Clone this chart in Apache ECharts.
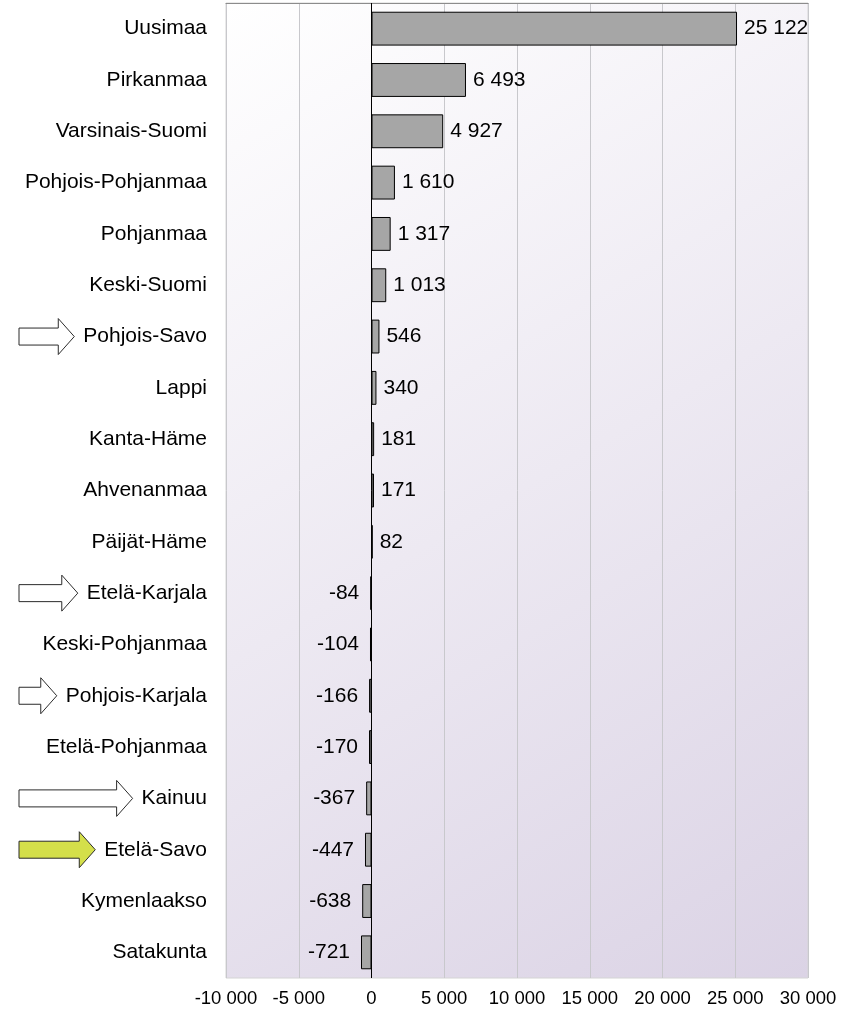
<!DOCTYPE html>
<html>
<head>
<meta charset="utf-8">
<script src="https://cdn.jsdelivr.net/npm/echarts@6/dist/echarts.min.js"></script>
<style>
  html, body { margin: 0; padding: 0; background: #fff; }
  #chart { width: 841px; height: 1013px; }
</style>
</head>
<body>
<div id="chart"></div>
<script>
const regions = ['Uusimaa', 'Pirkanmaa', 'Varsinais-Suomi', 'Pohjois-Pohjanmaa', 'Pohjanmaa',
  'Keski-Suomi', 'Pohjois-Savo', 'Lappi', 'Kanta-Häme', 'Ahvenanmaa', 'Päijät-Häme',
  'Etelä-Karjala', 'Keski-Pohjanmaa', 'Pohjois-Karjala', 'Etelä-Pohjanmaa', 'Kainuu',
  'Etelä-Savo', 'Kymenlaakso', 'Satakunta']
const netChange = [25122, 6493, 4927, 1610, 1317, 1013, 546, 340, 181, 171, 82,
  -84, -104, -166, -170, -367, -447, -638, -721]
const axisTicks = [-10000, -5000, 0, 5000, 10000, 15000, 20000, 25000, 30000]
const markedRegions = ['Pohjois-Savo', 'Etelä-Karjala', 'Pohjois-Karjala', 'Kainuu']
const highlightRegion = 'Etelä-Savo'

const FONT = '"Liberation Sans", Arial, sans-serif'
const fmt = (v) => String(v).replace(/\B(?=(\d{3})+(?!\d))/g, ' ')

const chart = echarts.init(document.getElementById('chart'))

const barData = netChange.map(v => ({
  value: v,
  label: v >= 0
    ? { position: 'right', distance: 7 }
    : { position: 'left', distance: 11 }
}))

chart.setOption({
  animation: false,
  grid: {
    left: 226, right: 33, top: 3, bottom: 35,
    show: true,
    borderColor: '#d4d4d4',
    borderWidth: 1,
    backgroundColor: new echarts.graphic.LinearGradient(0, 0, 1, 1, [
      { offset: 0, color: '#ffffff' },
      { offset: 1, color: '#dbd3e5' }
    ])
  },
  xAxis: [{
    type: 'value',
    min: axisTicks[0],
    max: axisTicks[axisTicks.length - 1],
    interval: 5000,
    axisLine: { show: false },
    axisTick: { show: false },
    splitLine: { show: true, lineStyle: { color: '#c8c8cc', width: 1 } },
    axisLabel: {
      fontFamily: FONT, fontSize: 18.5, color: '#000', margin: 11,
      formatter: fmt
    }
  }, {
    type: 'value',
    position: 'top',
    min: axisTicks[0],
    max: axisTicks[axisTicks.length - 1],
    axisLine: { show: true, onZero: false, lineStyle: { color: '#8c8c8c', width: 1 } },
    axisTick: { show: false },
    axisLabel: { show: false },
    splitLine: { show: false }
  }],
  yAxis: {
    type: 'category',
    data: regions,
    inverse: true,
    axisLine: { show: false, onZero: false },
    axisTick: { show: false },
    splitLine: { show: false },
    axisLabel: {
      fontFamily: FONT, fontSize: 21, color: '#000', margin: 19
    }
  },
  series: [{
    type: 'bar',
    data: barData,
    barCategoryGap: '34%',
    itemStyle: { color: '#a6a6a6', borderColor: '#000', borderWidth: 1 },
    label: {
      show: true,
      fontFamily: FONT, fontSize: 21, color: '#000',
      formatter: p => fmt(p.value)
    },
    markLine: {
      silent: true,
      symbol: 'none',
      label: { show: false },
      lineStyle: { color: '#000', width: 1, type: 'solid' },
      data: [{ xAxis: 0 }]
    }
  }]
})

// arrows pointing at selected region labels
const ctx = document.createElement('canvas').getContext('2d')
ctx.font = '21px ' + FONT
const labelRight = 226 - 19
const arrowLeft = 19
const makeArrow = (name, fill) => {
  const y = chart.convertToPixel({ yAxisIndex: 0 }, name)
  const tip = labelRight - ctx.measureText(name).width - 9
  const head = 16
  const shaft = 8.5
  const wing = 18
  return {
    type: 'polygon',
    shape: {
      points: [
        [arrowLeft, y - shaft], [tip - head, y - shaft], [tip - head, y - wing],
        [tip, y], [tip - head, y + wing], [tip - head, y + shaft], [arrowLeft, y + shaft]
      ]
    },
    style: { fill: fill, stroke: '#2b2b2b', lineWidth: 1 }
  }
}
const arrows = markedRegions.map(n => makeArrow(n, '#ffffff'))
arrows.push(makeArrow(highlightRegion, '#d4df4a'))
chart.setOption({ graphic: arrows })
</script>
</body>
</html>
